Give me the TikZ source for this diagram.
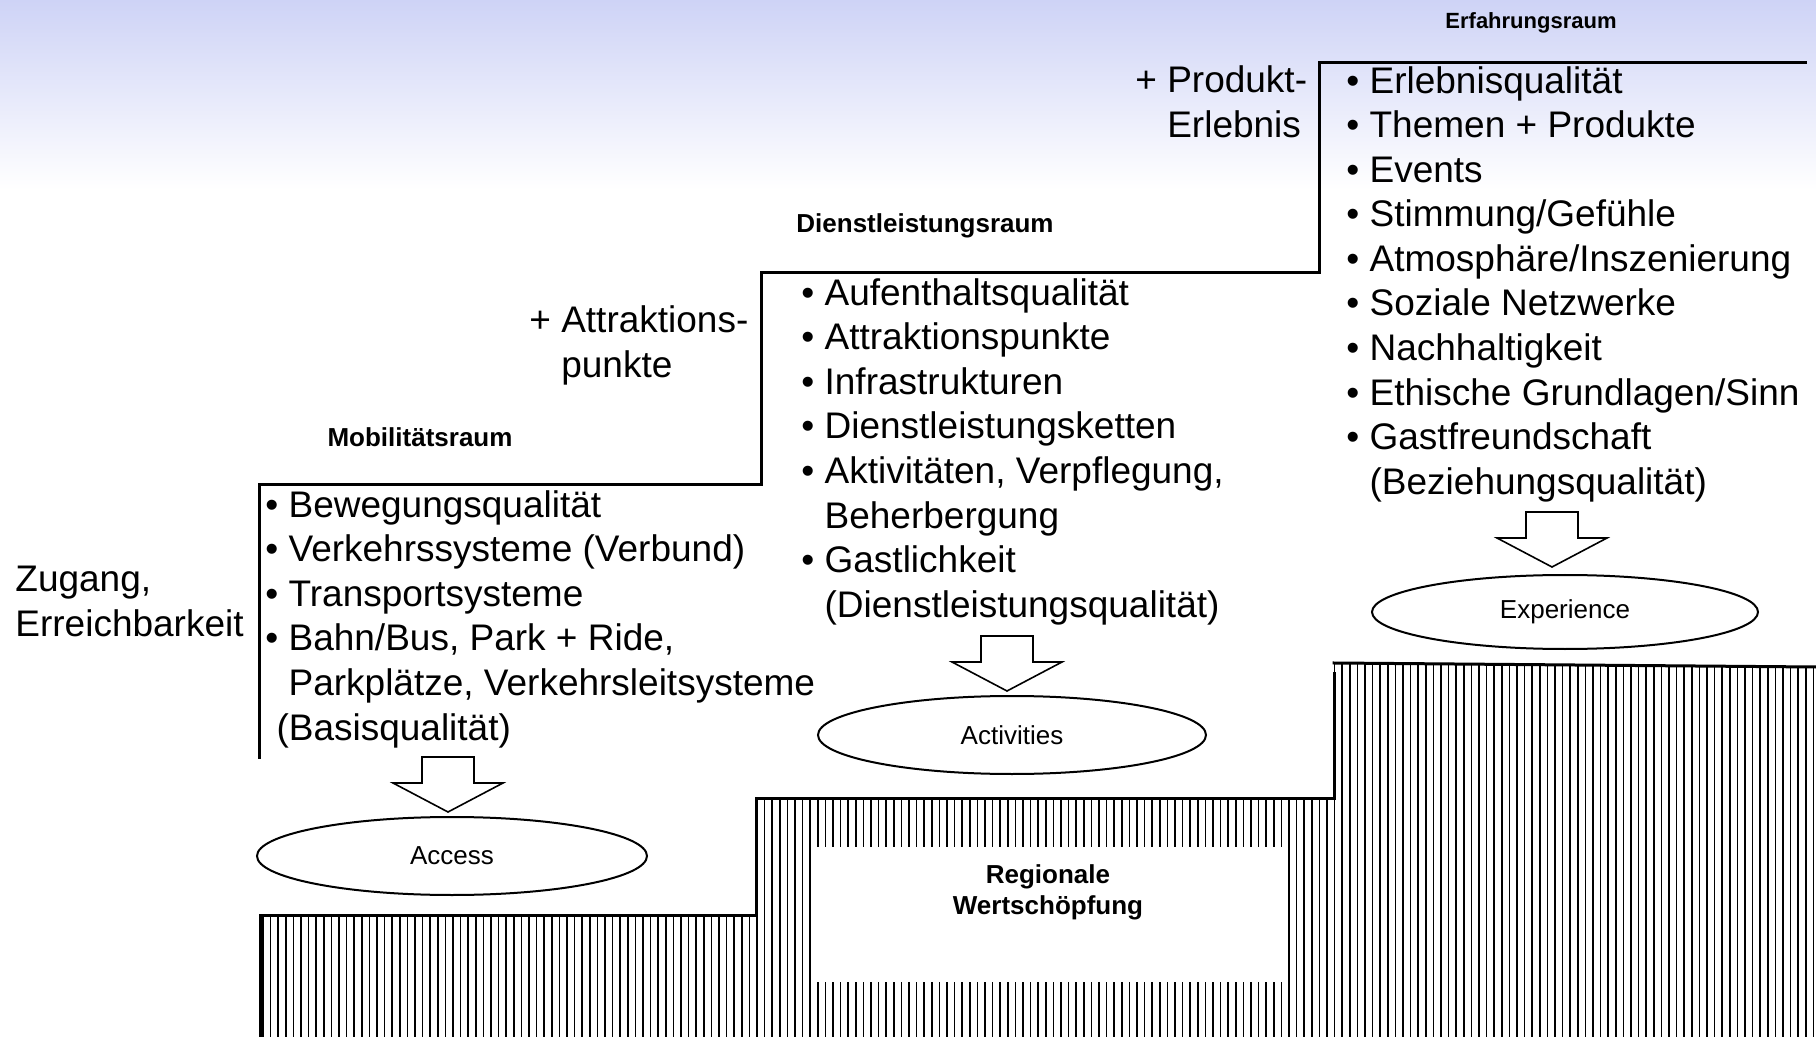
\documentclass[tikz,border=0pt]{standalone}
\usepackage{fontspec}
\setmainfont{Liberation Sans}
\usetikzlibrary{shapes.geometric}
\definecolor{skytop}{RGB}{206,211,246}

\begin{document}
\begin{tikzpicture}[x=0.5pt,y=-0.5pt,
  stepline/.style={line width=1.5pt, line join=miter, line cap=rect},
  hatchline/.style={line width=0.75pt, black},
  % multi-line nodes are placed by the baseline of their last line
  listtext/.style={anchor=base west, inner sep=0pt, align=left,
    font=\fontsize{18.5}{22.3}\selectfont},
  roomlabel/.style={anchor=base, inner sep=0pt, align=center,
    font=\fontsize{13}{15.5}\selectfont\bfseries},
  goal/.style={draw, line width=1pt, ellipse, inner sep=0pt,
    font=\fontsize{13}{15.5}\selectfont},
  downarrow/.pic={
    \draw[line width=0.8pt, fill=white, line join=miter]
      (-26,-55) -- (26,-55) -- (26,-29) -- (55,-29) -- (0,0)
      -- (-55,-29) -- (-26,-29) -- cycle;
  }
]
\useasboundingbox (0,0) rectangle (1816,1037);
\fill[white] (0,0) rectangle (1816,1037);
\shade[top color=skytop, bottom color=white] (0,0) rectangle (1816,190);

% hatched value-creation terrain
\begin{scope}
  \clip (260,1037) -- (260,915) -- (756,915) -- (756,798) -- (1334,798)
        -- (1334,663) -- (1816,667) -- (1816,1037) -- cycle;
  \foreach \x in {263,270.6,...,1816}
    \draw[hatchline] (\x,650) -- (\x,1037);
\end{scope}
\fill[white] (814,847) rectangle (1283,982);
\draw[stepline] (260,1037) -- (260,915) -- (756,915) -- (756,798) -- (1334,798) -- (1334,673);
\draw[stepline] (1334,663) -- (1816,667);

% staircase of spaces
\draw[stepline] (259,757) -- (259,485) -- (761,485) -- (761,273) -- (1319,273) -- (1319,63) -- (1805,63);

% room titles
\node[roomlabel] (mobil) at (420,447) {Mobilitätsraum};
\node[roomlabel] (dienst) at (925,233) {Dienstleistungsraum};
\node[roomlabel, font=\fontsize{11}{13}\selectfont\bfseries] (erfahr) at (1531,29) {Erfahrungsraum};

% step labels
\node[listtext] (zugang) at (15,636) {Zugang,\\Erreichbarkeit};
\node[listtext] (attr) at (529,377.6) {+ Attraktions-\\\phantom{+ }punkte};
\node[listtext] (prod) at (1135,137.6) {+ Produkt-\\\phantom{+ }Erlebnis};

% bullet lists
\node[listtext] (list1) at (265,740) {• Bewegungsqualität\\
• Verkehrssysteme (Verbund)\\
• Transportsysteme\\
• Bahn/Bus, Park + Ride,\\
\phantom{• }Parkplätze, Verkehrsleitsysteme\\
\hspace{0.3em}(Basisqualität)};

\node[listtext] (list2) at (801,617.2) {• Aufenthaltsqualität\\
• Attraktionspunkte\\
• Infrastrukturen\\
• Dienstleistungsketten\\
• Aktivitäten, Verpflegung,\\
\phantom{• }Beherbergung\\
• Gastlichkeit\\
\phantom{• }(Dienstleistungsqualität)};

\node[listtext] (list3) at (1346,494.4) {• Erlebnisqualität\\
• Themen + Produkte\\
• Events\\
• Stimmung/Gefühle\\
• Atmosphäre/Inszenierung\\
• Soziale Netzwerke\\
• Nachhaltigkeit\\
• Ethische Grundlagen/Sinn\\
• Gastfreundschaft\\
\phantom{• }(Beziehungsqualität)};

% outcomes
\node[goal, minimum width=195pt, minimum height=39pt] (access) at (452,856) {Access};
\node[goal, minimum width=194pt, minimum height=39pt] (activ) at (1012,735) {Activities};
\node[goal, minimum width=193pt, minimum height=37pt] (exper) at (1565,612) {\raisebox{-2pt}{Experience}};

\pic at ([xshift=-2pt,yshift=2pt]access.north) {downarrow};
\pic at ([xshift=-2.5pt,yshift=2pt]activ.north) {downarrow};
\pic at ([xshift=-6.5pt,yshift=3.5pt]exper.north) {downarrow};

% regional value creation
\node[roomlabel] (region) at (1048,914) {Regionale\\Wertschöpfung};
\end{tikzpicture}
\end{document}
